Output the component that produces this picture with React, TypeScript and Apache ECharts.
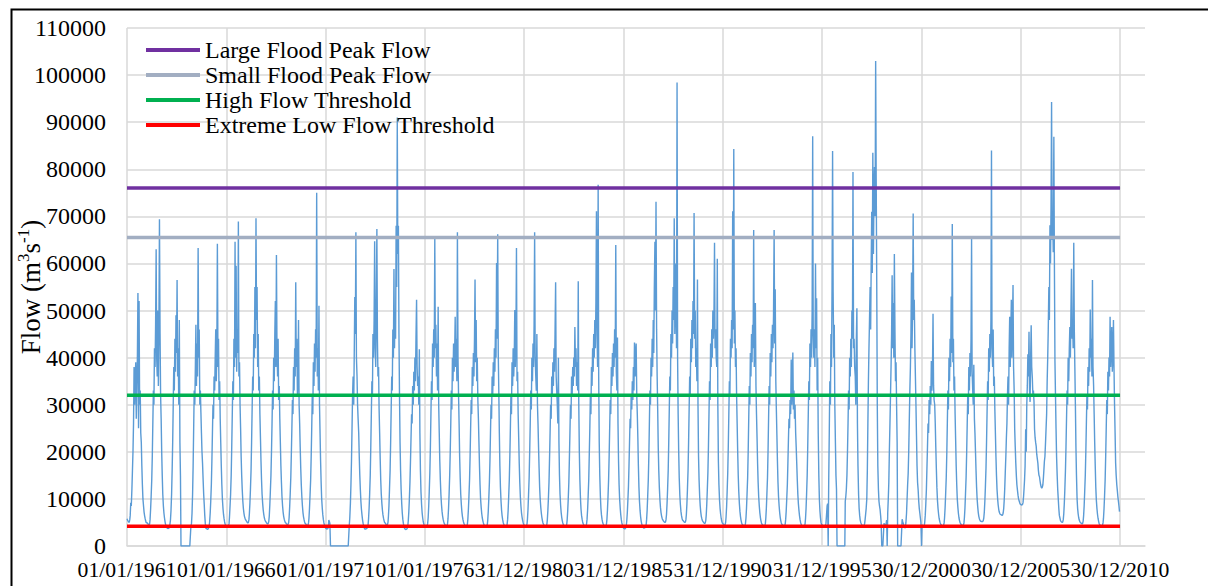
import React, { useEffect, useRef } from "react";
import * as echarts from "echarts";

// ---------- DATA ----------
// Daily flow hydrograph read at ~10-day steps (1st, 11th, 21st of each month), m3/s.
const dekadStartDays = [1, 11, 21];

const flow1961to1970 = [
  5800,5500,5300, 5100,5000,5600, 6500,9200,8500, 12000,16000,20000, 26000,38000,30000, 36000,39000,27000, 34000,40000,53700, 25000,52000,30000, 33000,24000,22000, 17000,13000,10000, 8500,7200,6400, 5800,5300,4900,
  5000,4800,4700, 4600,4500,4700, 5600,7800,10500, 14000,19000,26000, 33000,30000,42000, 38000,47000,63000, 40000,36000,50000, 34000,47000,69400, 45000,32000,27000, 20000,15000,11000, 8500,7000,6000, 5200,4600,4200,
  4000,3800,3700, 3700,3800,4000, 4600,5500,7500, 11000,16000,22000, 30000,38000,33000, 44000,37000,49000, 41000,56500,36000, 42000,30000,48000, 22000,15000,0, 0,0,0, 0,0,0, 0,0,0,
  0,0,0, 0,0,0, 0,0,4200, 4800,7000,11000, 17000,25000,33000, 30000,38000,47000, 34000,43000,36000, 63300,40000,46000, 30000,33000,28400, 24000,20000,17600, 14000,11000,8900, 6500,4800,3800,
  3700,3600,3500, 3600,3900,4300, 5200,7000,9500, 13000,18000,24000, 30000,27000,36000, 33000,40000,46000, 35000,41000,64200, 38000,44000,31000, 35000,27000,22000, 17000,13000,10000, 8000,6700,5800, 5100,4600,4300,
  4200,4100,4000, 4000,4200,4800, 6200,8500,11000, 15000,21000,28000, 35000,31000,44000, 38000,64600,40000, 59500,37000,46000, 41000,68900,36000, 39000,30000,25000, 19000,15000,12000, 9500,8000,7000, 6300,5900,5600,
  5400,5200,5000, 4900,5000,5600, 6800,9000,12000, 16000,22000,29000, 36000,33000,45000, 40000,55000,42000, 69600,48000,55000, 38000,45000,33000, 36000,28000,23000, 18000,14000,11000, 9000,7600,6700, 6000,5600,5300,
  5100,4900,4800, 4700,4800,5200, 6300,8600,11500, 15000,20000,26000, 33000,29000,40000, 35000,45000,52000, 38000,61800,42000, 36000,44000,31000, 34000,27000,22000, 17000,13500,10500, 8500,7200,6300, 5700,5300,5000,
  4900,4700,4600, 4500,4600,5000, 6000,8200,11000, 14500,19500,25000, 31000,28000,38000, 33000,42000,36000, 56000,38000,44000, 32000,36000,48000, 30000,26000,21000, 16500,13000,10500, 8500,7100,6200, 5600,5100,4800,
  4700,4500,4400, 4300,4400,4900, 5900,8000,10800, 14000,19000,25000, 32000,28000,39000, 34000,43000,37000, 46000,40000,75000, 36000,42000,33000, 51000,30000,24000, 18000,13500,10000, 8000,6600,5600, 4900,4400,4000,
];

const flow1971to1980 = [
  3800,3700,3600, 3600,3700,4300, 5500,5200,4800, 0,0,0, 0,0,0, 0,0,0, 0,0,0, 0,0,0, 0,0,0, 0,0,0, 0,0,0, 0,0,0,
  0,0,0, 0,0,0, 0,4300,6000, 9000,13000,18000, 25000,32000,36000, 30000,41000,52900, 45000,66600,40000, 36000,30000,27000, 24000,19000,15000, 12000,9500,7800, 6500,5500,4800, 4300,3900,3600,
  3600,3600,3700, 3800,4000,4600, 5800,8000,11000, 15000,21000,28000, 35000,32000,45000, 40000,48000,64700, 42000,38000,50000, 67300,44000,36000, 38000,29000,24000, 18500,14000,11000, 9000,7600,6600, 5900,5400,5000,
  4900,4700,4500, 4400,4500,5000, 6200,8500,12000, 16000,22000,29000, 36000,33000,46000, 40000,58800,42000, 50000,44000,68000, 55000,91000,62000, 68000,45000,32000, 22000,16000,12000, 9000,7000,5700, 4800,4200,3800,
  3600,3500,3500, 3600,3800,4300, 5300,7200,9800, 13500,18000,23000, 28000,26000,34000, 30000,37000,33000, 40000,35000,44000, 52300,38000,34000, 36000,30000,41800, 24000,16000,11500, 8800,7100,6000, 5200,4700,4300,
  4200,4100,4000, 4000,4200,4800, 6000,8400,11500, 15500,21000,28000, 35000,31000,43000, 38000,46000,40000, 65200,42000,47000, 36000,43000,33000, 50800,30000,24000, 18000,14000,11000, 8800,7400,6400, 5700,5200,4800,
  4600,4400,4300, 4200,4300,4800, 5800,8000,11000, 15000,20000,26000, 33000,29000,40000, 35000,43000,37000, 41000,48700,38000, 44000,35000,66600, 40000,32000,26000, 19000,14500,11000, 8800,7300,6300, 5600,5100,4700,
  4500,4300,4200, 4100,4200,4700, 5700,7800,10500, 14000,19000,25000, 31000,28000,38000, 34000,41000,36000, 44000,56600,39000, 48000,35000,40000, 31000,27000,22000, 17000,13000,10000, 8200,6900,6000, 5400,4900,4500,
  4400,4200,4100, 4000,4100,4500, 5400,7300,10000, 13500,18000,24000, 30000,27000,36000, 32000,39000,34000, 42000,37000,46000, 40000,60100,44000, 66200,41000,33000, 24000,17000,12500, 9500,7600,6400, 5600,5000,4600,
  4400,4200,4100, 4000,4100,4600, 5600,7600,10500, 14000,19000,25000, 32000,28000,39000, 34000,42000,36000, 40000,50100,38000, 44000,63300,35000, 37000,28000,23000, 17500,13500,10500, 8500,7100,6200, 5500,5000,4600,
];

const flow1981to1990 = [
  4400,4300,4200, 4100,4200,4700, 5700,7800,10800, 14500,20000,26000, 33000,29000,40000, 35000,43000,38000, 47000,66600,40000, 36000,33000,45000, 30000,26000,21000, 16500,12500,10000, 8200,7000,6100, 5400,4900,4600,
  4400,4300,4200, 4100,4200,4600, 5500,7500,10000, 13500,18500,24000, 30000,27000,36000, 32000,39000,34000, 42000,37000,45000, 56000,36000,33000, 30000,26000,40000, 22000,15000,11000, 8600,7100,6100, 5400,4900,4500,
  4400,4200,4100, 4000,4100,4600, 5500,7400,10000, 13500,18500,24000, 30000,27000,36000, 32000,38000,34000, 40000,36000,46500, 38000,42000,34000, 39000,33000,56200, 30000,20000,14000, 10000,7800,6500, 5700,5100,4700,
  4500,4300,4200, 4100,4200,4700, 5700,7700,10500, 14000,19500,25000, 32000,28000,38000, 34000,42000,37000, 45000,40000,48000, 42000,52000,71100, 45000,38000,76700, 36000,22000,15000, 10500,8000,6600, 5700,5100,4700,
  4500,4300,4200, 4100,4200,4700, 5600,7600,10300, 14000,19000,25000, 31000,28000,38000, 34000,41000,36000, 43000,38000,46000, 40000,63900,37000, 33000,44300,26000, 18000,13000,10000, 8000,6600,5600, 4900,4400,4000,
  3800,3700,3600, 3700,3900,4400, 5300,7000,9500, 12500,17000,22000, 27000,25000,32000, 29000,35000,31000, 38000,33000,43200, 36000,41000,43000, 32000,28000,23000, 17000,12500,9500, 7500,6200,5300, 4700,4300,4000,
  3900,3800,3800, 3900,4100,4600, 5600,7600,10500, 14000,19000,26000, 33000,30000,40000, 36000,44000,38000, 48000,41000,55000, 64600,50000,73100, 46000,36000,29000, 21000,16000,12500, 9800,8200,7100, 6400,5900,5600,
  5400,5200,5100, 5000,5100,5600, 6700,9000,12000, 16000,22000,29000, 36000,33000,45000, 40000,50000,43000, 55000,48000,69600, 45000,52000,60000, 42000,98400,40000, 28000,20000,14500, 10800,8800,7400, 6500,5900,5500,
  5400,5200,5100, 5000,5100,5600, 6700,8900,12000, 16000,22000,29000, 36000,32000,44000, 39000,48000,42000, 52000,45000,70700, 44000,50000,38000, 42000,35000,56600, 30000,19000,14000, 10500,8500,7200, 6300,5800,5400,
  5200,5000,4900, 4800,4900,5400, 6500,8700,11800, 15500,21000,28000, 35000,31000,43000, 38000,46000,40000, 50000,44000,48000, 64400,42000,46000, 40000,38000,61000, 30000,18000,13000, 9800,8000,6800, 5900,5300,4900,
];

const flow1991to2000 = [
  4800,4600,4500, 4400,4500,5000, 6100,8300,11500, 15500,21000,28000, 35000,32000,44000, 40000,48000,42000, 71100,46000,84300, 43000,50000,38000, 42000,32000,26000, 20000,15000,11500, 9000,7400,6300, 5500,5000,4600,
  4500,4400,4300, 4200,4300,4800, 5900,8000,11000, 14500,20000,27000, 34000,30000,41000, 36000,45000,39000, 47000,42000,67100, 38000,44000,51600, 34000,28000,23000, 17500,13500,10500, 8500,7100,6100, 5400,4900,4600,
  4500,4400,4300, 4200,4300,4800, 5900,8000,11000, 14500,20000,27000, 34000,30000,41000, 36000,45000,39000, 47000,42000,49000, 67100,43000,54500, 35000,29000,23500, 18000,13500,10500, 8500,7100,6100, 5400,4900,4600,
  4500,4400,4300, 4200,4300,4700, 5600,7400,10000, 13000,17500,22500, 27000,25000,31000, 28000,39600,30000, 34000,41100,29000, 33000,27000,30000, 24000,21000,17500, 14000,11000,9000, 7500,6400,5600, 5000,4600,4300,
  4300,4200,4100, 4100,4200,4700, 5800,7900,11000, 15000,21000,28000, 35000,31000,43000, 38000,46000,40000, 50000,87000,45000, 40000,46000,38000, 60000,42000,52600, 33000,40000,24000, 15000,10000,7500, 6000,5000,4600,
  4500,4300,4200, 4100,4100,4200, 4400,4800,6500, 8500,9000,0, 14000,24000,35000, 30000,45000,38000, 55000,83900,54000, 40000,47000,30000, 22000,15000,12000, 0,0,0, 0,0,0, 0,0,0,
  0,0,0, 0,0,0, 9500,10500,12000, 15000,20000,26000, 33000,29000,40000, 36000,44000,38000, 50000,44000,79400, 42000,44000,38000, 36000,30000,44000, 50500,26000,17000, 11000,8000,6500, 5500,5000,4700,
  4500,4300,4300, 4300,4400,4800, 5600,6800,8000, 10000,16000,26000, 35000,42000,48000, 55000,46000,60000, 71000,58000,83500, 62000,75000,80500, 70000,103000,78000, 56000,30000,17000, 12000,9500,8500, 7800,6500,5000,
  0,0,0, 0,4800,4600, 4500,4400,4600, 5500,0,7000, 10000,13500,20000, 26000,32000,38000, 45000,57500,42000, 51600,40000,62000, 45500,35000,39000, 29900,22000,0, 0,0,0, 0,0,0,
  0,5700,5200, 4800,4400,4100, 3800,4000,5000, 7000,10000,13000, 15400,20000,26300, 33000,38000,45000, 58100,42000,50000, 70600,48000,52300, 42000,36000,30000, 23400,17000,13500, 11800,9500,8000, 7000,6000,5000,
];

const flow2001to2010 = [
  0,4500,4300, 4200,4100,4300, 5000,6500,8800, 12000,16500,21000, 26000,24000,31000, 28000,34000,30000, 39300,33000,36000, 49300,34000,31000, 30000,26000,21000, 16500,12500,9800, 8000,6800,5900, 5300,4900,4600,
  4500,4400,4300, 4300,4400,4900, 6000,8100,11000, 14500,19500,26000, 33000,29000,40000, 35000,44000,38000, 53000,41000,68400, 39000,44000,33000, 36000,28000,22500, 17000,13000,10000, 8200,6900,6000, 5400,5000,4700,
  4600,4500,4400, 4300,4400,4900, 6000,8000,11000, 14500,19500,25500, 32000,28000,38000, 33000,41000,36000, 44000,65300,37000, 33000,30000,38500, 27000,24000,20000, 16000,12500,10000, 8300,7100,6300, 5800,5500,5300,
  5300,5200,5200, 5200,5400,6000, 7200,9500,12500, 16500,22000,28500, 35000,31000,42000, 37000,45000,40000, 48000,84000,42000, 38000,46000,34000, 36000,29000,24000, 19000,15000,12000, 10000,8700,7800, 7200,6900,6700,
  6700,6600,6500, 6600,7000,8000, 9500,12000,15400, 19000,23000,26000, 32000,36000,30000, 42000,48700,38000, 45000,52300,40000, 47000,55400,38000, 33000,24800,21000, 17600,15000,13000, 11800,10800,10000, 9600,9200,8900,
  8800,8700,8700, 8800,9200,10500, 12000,14000,17000, 24800,20000,30000, 34000,40700,36000, 45500,33000,30600, 40000,46900,38000, 35700,32000,33000, 30600,24800,23000, 22000,21200,19500, 18500,17600,16000, 15000,14700,13800,
  13000,12500,12300, 12500,13000,14500, 16000,18000,19000, 22000,25000,28000, 35000,40000,46000, 55000,48000,68100, 60000,72000,94300, 65000,70000,62400, 86900,60000,39300, 32000,25000,19000, 15000,12000,10000, 8000,6500,6000,
  5400,5200,5100, 5000,5100,5600, 6800,9000,12000, 16000,21000,27000, 33000,30000,40000, 35000,42000,46500, 40000,50000,58900, 44000,48000,42000, 64400,46000,38000, 30000,21000,15000, 10000,8000,6800, 6000,5500,5200,
  5000,4900,4800, 4700,4800,5300, 6400,8500,11500, 15000,20000,26000, 32000,29000,38000, 34000,42000,37000, 50200,40000,44000, 36000,56500,38000, 34000,28000,22000, 17000,12500,9800, 8000,6800,5900, 5300,4800,4500,
  4500,4400,4300, 4300,4400,4900, 5800,7800,10500, 14000,19000,25000, 31000,28000,37000, 33000,40000,36000, 48700,38000,42000, 46500,37000,40000, 48000,37800,30000, 24000,17600,15000, 13000,11800,10500, 9500,8500,7300,
];

const thresholdNames = [
  "Large Flood Peak Flow",
  "Small Flood Peak Flow",
  "High Flow Threshold",
  "Extreme Low Flow Threshold",
];
const thresholdValues = [76000, 65500, 32000, 4200];
const thresholdColors = ["#7030A0", "#A2AEC2", "#00B050", "#FF0000"];

const periodStart = [1961, 0, 1];
const periodEnd = [2010, 11, 31];
const tickStepDays = 1826; // Excel date axis major unit
const yTicks = { min: 0, max: 110000, step: 10000 };

// ---------- HELPERS ----------
const START_UTC = Date.UTC(periodStart[0], periodStart[1], periodStart[2]);
const DAY_MS = 86400000;
const dayOf = (y: number, m: number, d: number) =>
  Math.round((Date.UTC(y, m, d) - START_UTC) / DAY_MS);

function decadePoints(firstYear: number, values: number[]) {
  return values.map((v, i) => {
    const y = firstYear + Math.floor(i / 36);
    const k = i % 36;
    return [dayOf(y, Math.floor(k / 3), dekadStartDays[k % 3]), v];
  });
}

const pad = (n: number) => (n < 10 ? "0" + n : "" + n);
function fmtDay(v: number) {
  if (Math.round(v) % tickStepDays !== 0) return "";
  const d = new Date(START_UTC + v * DAY_MS);
  return pad(d.getUTCDate()) + "/" + pad(d.getUTCMonth() + 1) + "/" + d.getUTCFullYear();
}

const FONT = "Liberation Serif";

export default function App() {
  const ref = useRef<HTMLDivElement>(null);
  useEffect(() => {
    if (!ref.current) return;
    const chart = echarts.init(ref.current, undefined, { renderer: "svg" });

    const flowData = [
      ...decadePoints(1961, flow1961to1970),
      ...decadePoints(1971, flow1971to1980),
      ...decadePoints(1981, flow1981to1990),
      ...decadePoints(1991, flow1991to2000),
      ...decadePoints(2001, flow2001to2010),
    ];
    const x0 = dayOf(periodStart[0], periodStart[1], periodStart[2]);
    const x1 = dayOf(periodEnd[0], periodEnd[1], periodEnd[2]);

    const thresholdSeries = thresholdNames.map((name, i) => ({
      name,
      type: "line",
      data: [
        [x0, thresholdValues[i]],
        [x1, thresholdValues[i]],
      ],
      showSymbol: false,
      symbol: "none",
      z: 5,
      color: thresholdColors[i],
      itemStyle: { color: thresholdColors[i] },
      lineStyle: { color: thresholdColors[i], width: 3.5 },
      silent: true,
    }));

    chart.setOption({
      animation: false,
      backgroundColor: "#ffffff",
      textStyle: { fontFamily: FONT },
      graphic: [
        {
          type: "rect",
          left: 9,
          top: 7,
          shape: { width: 1400, height: 800 },
          style: { fill: "none", stroke: "#000000", lineWidth: 2 },
          silent: true,
          z: 100,
        },
      ],
      grid: {
        left: 127,
        right: 63,
        top: 28,
        bottom: 40,
        containLabel: false,
        outerBoundsMode: "none",
      },
      legend: {
        data: thresholdNames,
        orient: "vertical",
        left: 146,
        top: 37.5,
        padding: 0,
        itemGap: 0,
        itemWidth: 54,
        itemHeight: 4,
        icon: "rect",
        selectedMode: false,
        textStyle: { fontSize: 24, fontFamily: FONT, color: "#000000", lineHeight: 25 },
      },
      xAxis: {
        type: "value",
        min: 0,
        max: 18720,
        interval: tickStepDays,
        axisLine: { show: true, lineStyle: { color: "#D9D9D9", width: 1.5 } },
        axisTick: { show: false },
        axisLabel: {
          formatter: fmtDay,
          fontSize: 21.7,
          fontFamily: FONT,
          color: "#000000",
          margin: 13,
          showMinLabel: true,
          showMaxLabel: false,
          hideOverlap: false,
        },
        splitLine: {
          show: true,
          showMinLine: true,
          showMaxLine: false,
          lineStyle: { color: "#D9D9D9", width: 1.5 },
        },
      },
      yAxis: {
        type: "value",
        min: yTicks.min,
        max: yTicks.max,
        interval: yTicks.step,
        name: "Flow (m{sup|3}s{sup|-1})",
        nameLocation: "middle",
        nameGap: 80,
        nameRotate: 90,
        nameMoveOverlap: false,
        nameTextStyle: {
          fontSize: 27,
          fontFamily: FONT,
          color: "#000000",
          lineHeight: 32,
          rich: {
            sup: { fontSize: 17, fontFamily: FONT, color: "#000000", verticalAlign: "top", lineHeight: 17 },
          },
        },
        axisLine: { show: false },
        axisTick: { show: false },
        axisLabel: {
          fontSize: 24,
          fontFamily: FONT,
          color: "#000000",
          margin: 21,
          formatter: (v: number) => String(v),
        },
        splitLine: { show: true, lineStyle: { color: "#D9D9D9", width: 1.5 } },
      },
      series: [
        {
          name: "Flow",
          type: "line",
          data: flowData,
          showSymbol: false,
          symbol: "none",
          z: 3,
          color: "#5B9BD5",
          lineStyle: { color: "#5B9BD5", width: 1.4 },
          silent: true,
        },
        ...thresholdSeries,
      ],
    });
    return () => chart.dispose();
  }, []);

  return (
    <div
      ref={ref}
      style={{ position: "absolute", left: 0, top: 0, width: 1208, height: 586, background: "#fff" }}
    />
  );
}
